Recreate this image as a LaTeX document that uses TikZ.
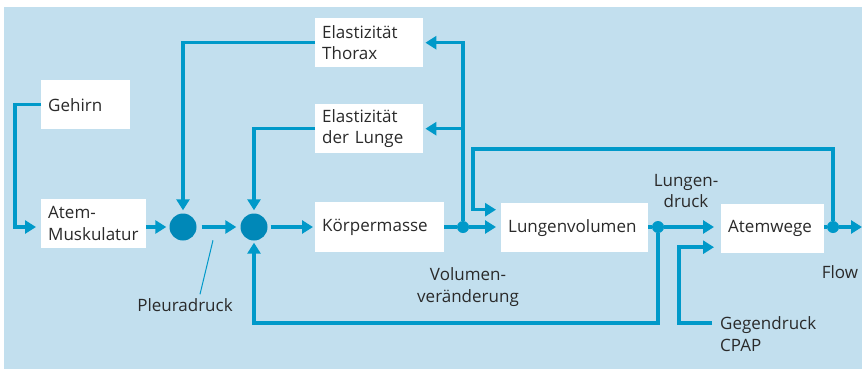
\documentclass[tikz,border=0pt]{standalone}
\usepackage{fontspec}
\setmainfont{Open Sans}
\usetikzlibrary{arrows.meta, positioning}

\definecolor{bgblue}{HTML}{C2DFEE}
\definecolor{flowblue}{HTML}{0099C9}
\definecolor{dotblue}{HTML}{0088B8}
\definecolor{txtgray}{HTML}{2A2A2A}

\begin{document}
\begin{tikzpicture}[x=1pt, y=-1pt,
    box/.style={fill=white, draw=none, anchor=north west, inner xsep=7pt, inner ysep=0pt, align=left, text=txtgray, font=\fontsize{17}{21.7}\selectfont},
    lbl/.style={text=txtgray, inner sep=0pt, align=center, font=\fontsize{17}{21.7}\selectfont},
    line/.style={draw=flowblue, line width=3.5pt},
    flow/.style={line, -{Triangle[length=11pt, width=13pt]}},
    junc/.style={circle, fill=flowblue, inner sep=0pt, minimum size=12pt},
    summ/.style={circle, fill=dotblue, inner sep=0pt, minimum size=27pt}]

\useasboundingbox (0,0) rectangle (862,370);
\fill[bgblue] (4,7) rectangle (862,369);

\node[box, minimum width=89pt, minimum height=49pt, text width=75pt] (gehirn) at (41,80) {Gehirn};
\node[box, minimum width=105pt, minimum height=49pt, text width=91pt] (atem) at (41,199) {Atem-\\Muskulatur};
\node[box, minimum width=108pt, minimum height=49pt, text width=94pt] (thorax) at (315,18) {Elastizität\\Thorax};
\node[box, minimum width=108pt, minimum height=49pt, text width=94pt] (lunge) at (315,104) {Elastizität\\der Lunge};
\node[box, minimum width=129pt, minimum height=50pt, text width=115pt] (masse) at (315,202) {Körpermasse};
\node[box, minimum width=147pt, minimum height=49pt, text width=133pt] (volumen) at (501,203) {Lungenvolumen};
\node[box, minimum width=103pt, minimum height=49pt, text width=89pt] (wege) at (721,204) {Atemwege};

\node[summ] (s1) at (183,227) {};
\node[summ] (s2) at (254,227) {};
\node[junc] (j1) at (463,227) {};
\node[junc] (j2) at (658,227) {};
\node[junc] (j3) at (833,227) {};
\coordinate (out) at (862,227);
\coordinate (fbtop) at (473,149);

\node[lbl] (pleura) at (185,305) {Pleuradruck};
\node[lbl] (vol) at (468,287) {Volumen-\\veränderung};
\node[lbl] (ldruck) at (686,191) {Lungen-\\druck};
\node[lbl] (flowlbl) at (840,272) {Flow};
\node[lbl, anchor=west, align=left] (cpap) at (720,334) {Gegendruck\\CPAP};

\draw[flow, shorten >=5pt] (gehirn.west) -- ++(-26,0) |- (atem.west |- s1);
\draw[flow, shorten >=3pt] (atem.east |- s1) -- (s1);
\draw[flow, shorten <=5pt, shorten >=4pt] (s1) -- (s2);
\draw[flow, shorten <=3pt, shorten >=2pt] (s2) -- (masse.west |- s2);
\draw[flow, shorten >=3pt] (thorax.west) -| (s1);
\draw[flow, shorten >=3pt] (lunge.west) -| (s2);
\draw[flowblue, line width=1pt] ([xshift=15pt, yshift=4pt]pleura.north) -- ++(13,-54);

\draw[line] (masse.east |- j1) -- (j1);
\draw[flow, shorten >=5pt] (j1) -- (volumen.west |- j1);
\draw[flow, shorten >=2pt] (j1) |- (thorax.east);
\draw[flow, shorten >=2pt] (j1 |- lunge.east) -- (lunge.east);

\draw[line] (volumen.east |- j2) -- (j2);
\draw[flow, shorten >=7pt] (j2) -- (wege.west |- j2);
\draw[flow, shorten >=2pt] (j2) -- ++(0,96) -| (s2);
\draw[flow, shorten >=7pt] ([xshift=-8pt, yshift=11pt]cpap.west) -- ++(-33,0) |- ([yshift=-18.5pt]wege.west);

\draw[line] (wege.east |- j3) -- (j3);
\draw[flow] (j3) -- (out);
\draw[flow, shorten >=5pt] (j3) |- (fbtop) |- ([yshift=18pt]volumen.west);

\end{tikzpicture}
\end{document}
